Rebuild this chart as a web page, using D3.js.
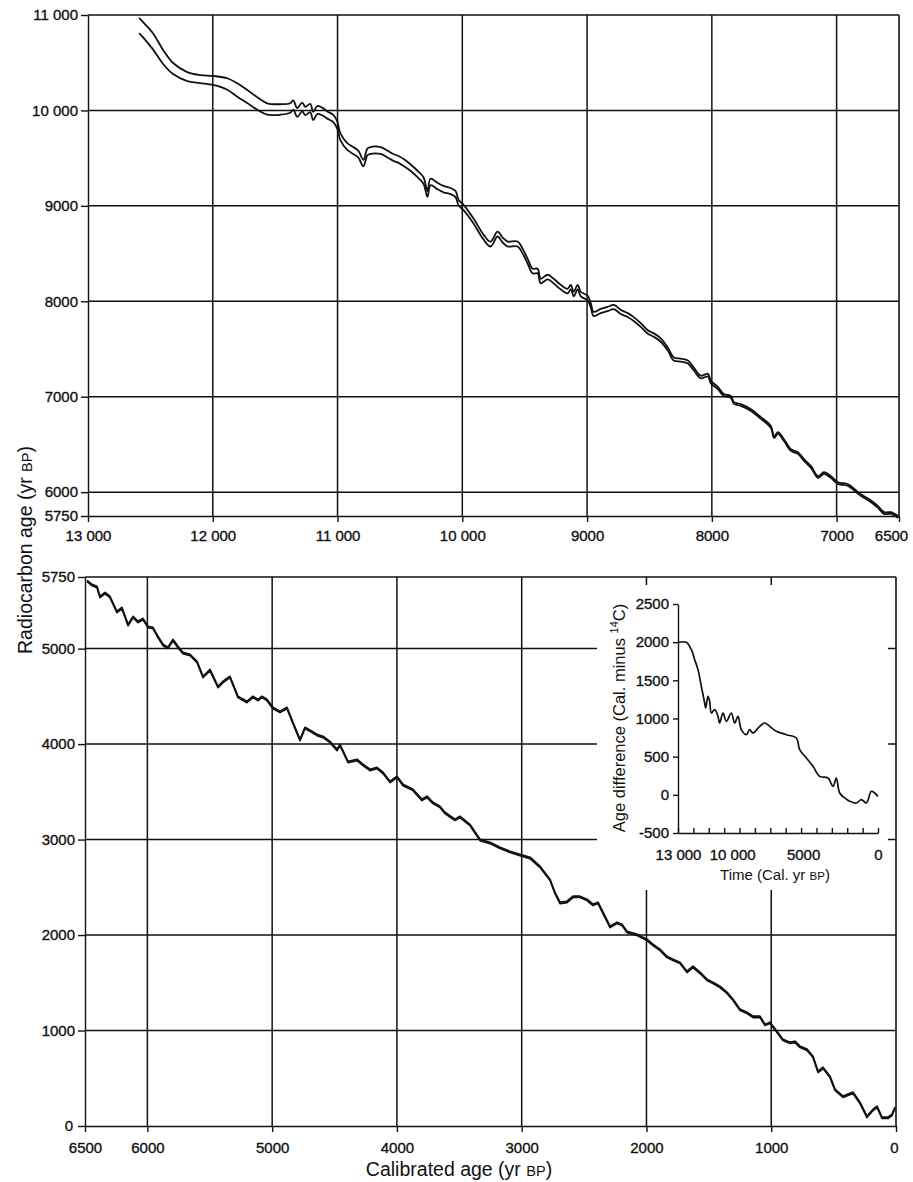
<!DOCTYPE html>
<html>
<head>
<meta charset="utf-8">
<script src="https://cdn.jsdelivr.net/npm/d3@7"></script>
<style>
  body { margin: 0; background: #fff; }
  svg { display: block; font-family: "Liberation Sans", Arial, sans-serif; }
  .axis text { font-size: 15px; fill: #111; stroke: #111; stroke-width: 0.35px; }
  .axis line, .axis path { stroke: #111; stroke-width: 1.4; }
  .title { fill: #111; }
</style>
</head>
<body>
<div id="chart-container"></div>
<script>
// calibration curve, 13000-6500 cal BP: [cal age, radiocarbon age, half-width of band]
const topCurve = [
  [12590, 10890, 80], [12560, 10848, 80], [12478, 10722, 85], [12398, 10560, 73],
  [12318, 10439, 58], [12205, 10355, 47], [12101, 10329, 42], [11997, 10314, 47],
  [11884, 10277, 60], [11804, 10214, 70], [11724, 10146, 68], [11644, 10073, 66],
  [11563, 10015, 60], [11459, 10010, 55], [11379, 10025, 50], [11355, 10057, 48],
  [11323, 9978, 46], [11283, 10036, 46], [11259, 9994, 44], [11219, 10025, 44],
  [11195, 9942, 44], [11163, 10004, 42], [11123, 9989, 40], [11082, 9952, 38],
  [11034, 9915, 38], [11002, 9847, 38], [10978, 9727, 36], [10922, 9622, 36],
  [10874, 9580, 36], [10834, 9543, 36], [10793, 9449, 34], [10761, 9564, 36],
  [10737, 9580, 36], [10656, 9580, 36], [10600, 9543, 36], [10552, 9507, 36],
  [10512, 9486, 36], [10464, 9449, 36], [10416, 9402, 34], [10359, 9334, 34],
  [10311, 9266, 34], [10279, 9124, 30], [10255, 9250, 34], [10199, 9208, 34],
  [10151, 9176, 34], [10095, 9155, 32], [10054, 9124, 32], [10030, 9035, 30],
  [9990, 8983, 28], [9910, 8841, 26], [9830, 8673, 26], [9774, 8600, 26],
  [9717, 8705, 26], [9677, 8642, 26], [9637, 8600, 26], [9557, 8600, 26],
  [9517, 8527, 25], [9477, 8422, 25], [9436, 8317, 24], [9396, 8317, 24],
  [9372, 8212, 24], [9316, 8254, 24], [9268, 8212, 24], [9212, 8149, 24],
  [9156, 8107, 24], [9131, 8149, 24], [9107, 8076, 24], [9075, 8149, 24],
  [9051, 8076, 24], [8995, 8034, 24], [8971, 7961, 24], [8947, 7867, 22],
  [8891, 7898, 22], [8835, 7919, 22], [8786, 7940, 22], [8730, 7888, 22],
  [8674, 7856, 20], [8626, 7814, 20], [8570, 7751, 20], [8513, 7678, 18],
  [8465, 7646, 18], [8409, 7594, 18], [8353, 7500, 16], [8305, 7395, 16],
  [8249, 7384, 16], [8192, 7363, 16], [8144, 7290, 15], [8088, 7206, 14],
  [8032, 7227, 14], [8008, 7154, 14], [7952, 7091, 12], [7904, 7018, 10],
  [7847, 6997, 10], [7823, 6934, 9], [7767, 6913, 9], [7687, 6860, 9],
  [7607, 6777, 9], [7526, 6682, 9], [7502, 6577, 9], [7470, 6619, 9],
  [7422, 6546, 9], [7366, 6441, 9], [7310, 6410, 9], [7261, 6336, 9],
  [7205, 6263, 9], [7149, 6158, 9], [7101, 6200, 9], [7045, 6158, 9],
  [6989, 6095, 9], [6908, 6074, 9], [6828, 5991, 9], [6780, 5949, 9],
  [6716, 5896, 9], [6668, 5844, 9], [6619, 5781, 9], [6563, 5781, 9],
  [6507, 5739, 9]
];

// calibration curve, 6500-0 cal BP: [cal age, radiocarbon age]
const bottomCurve = [
  [6484, 5708], [6444, 5666], [6404, 5645], [6380, 5541], [6340, 5582], [6300, 5541],
  [6244, 5384], [6204, 5425], [6155, 5247], [6115, 5331], [6075, 5279], [6035, 5310],
  [5995, 5227], [5955, 5216], [5915, 5122], [5875, 5038], [5835, 5007], [5795, 5090],
  [5755, 5017], [5715, 4954], [5658, 4933], [5602, 4860], [5554, 4703], [5498, 4776],
  [5434, 4598], [5394, 4651], [5338, 4703], [5274, 4494], [5202, 4441], [5154, 4494],
  [5114, 4462], [5082, 4494], [5042, 4462], [4993, 4378], [4937, 4337], [4881, 4378],
  [4833, 4221], [4777, 4043], [4737, 4169], [4681, 4127], [4641, 4096], [4593, 4075],
  [4536, 4022], [4480, 3939], [4456, 3991], [4392, 3813], [4320, 3834], [4272, 3782],
  [4216, 3729], [4160, 3750], [4112, 3698], [4055, 3604], [3999, 3656], [3951, 3572],
  [3871, 3520], [3799, 3415], [3759, 3447], [3711, 3384], [3655, 3342], [3615, 3279],
  [3535, 3206], [3495, 3237], [3415, 3153], [3334, 2996], [3254, 2965], [3174, 2913],
  [3094, 2871], [3014, 2839], [2933, 2808], [2853, 2714], [2773, 2578], [2733, 2441],
  [2693, 2337], [2637, 2347], [2589, 2400], [2533, 2400], [2477, 2368], [2428, 2316],
  [2388, 2337], [2348, 2232], [2292, 2086], [2236, 2127], [2196, 2106], [2156, 2033],
  [2076, 2002], [1996, 1950], [1948, 1897], [1892, 1845], [1836, 1771], [1787, 1740],
  [1731, 1709], [1675, 1614], [1627, 1667], [1571, 1604], [1515, 1531], [1467, 1499],
  [1411, 1457], [1355, 1395], [1306, 1321], [1250, 1217], [1194, 1185], [1146, 1143],
  [1090, 1143], [1050, 1059], [1010, 1080], [954, 986], [906, 902], [850, 871],
  [810, 881], [769, 829], [713, 798], [665, 724], [625, 567], [585, 609],
  [529, 515], [489, 379], [425, 306], [345, 348], [289, 243], [233, 96],
  [184, 169], [152, 201], [112, 86], [64, 86], [32, 117], [8, 190]
];
const bottomHalfWidth = 7;

// inset: [cal age, cal minus 14C]
const diffCurve = [
  [13000, 1998], [12458, 1998], [12133, 1902], [11917, 1771], [11700, 1640], [11483, 1421],
  [11267, 1203], [11202, 1138], [11050, 1290], [10942, 1225], [10833, 1072], [10617, 1116],
  [10400, 1028], [10292, 941], [10075, 1072], [9858, 963], [9533, 1072], [9317, 941],
  [9100, 1028], [8883, 854], [8558, 788], [8342, 854], [8125, 810], [7692, 897],
  [7367, 941], [7042, 897], [6608, 832], [5958, 788], [5308, 745], [5092, 592],
  [4658, 483], [4225, 373], [3792, 242], [3250, 220], [2925, 111], [2708, 220],
  [2492, 24], [2167, -41], [1842, -85], [1408, -107], [1083, -63], [758, -107],
  [433, 46], [217, 24], [0, -20]
];

const topXTicks = [13000, 12000, 11000, 10000, 9000, 8000, 7000, 6500];
const topYTicks = [5750, 6000, 7000, 8000, 9000, 10000, 11000];
const botXTicks = [6500, 6000, 5000, 4000, 3000, 2000, 1000, 0];
const botYTicks = [0, 1000, 2000, 3000, 4000, 5000, 5750];
const insetXLabels = [13000, 10000, 5000, 0];
const insetXMinor = d3.range(0, 13001, 1000);
const insetYTicks = [-500, 0, 500, 1000, 1500, 2000, 2500];

const width = 913, height = 1182;
const ink = "#111";

const svg = d3.select("#chart-container").append("svg")
  .attr("width", width).attr("height", height);
svg.append("rect").attr("width", width).attr("height", height).attr("fill", "#fff");

const fmt = d => Math.abs(d) >= 10000 ? d3.format(",")(d).replace(",", " ") : String(d);

const xTop = d3.scaleLinear().domain([13000, 6500]).range([88, 899]);
const yTop = d3.scaleLinear().domain([5750, 11000]).range([516, 15]);
const xBot = d3.scaleLinear().domain([6500, 0]).range([85, 896]);
const yBot = d3.scaleLinear().domain([0, 5750]).range([1126, 577]);
const xIn = d3.scaleLinear().domain([13000, 0]).range([678, 878]);
const yIn = d3.scaleLinear().domain([-500, 2500]).range([833, 604]);

function panel(x, y, xTicks, yTicks) {
  const g = svg.append("g");
  const [x0, x1] = x.range();
  const [y0, y1] = y.range();
  // grid
  g.append("g").selectAll("line").data(xTicks.slice(1, -1)).join("line")
    .attr("x1", d => x(d)).attr("x2", d => x(d))
    .attr("y1", y1).attr("y2", y0)
    .attr("stroke", ink).attr("stroke-width", 1.5);
  g.append("g").selectAll("line").data(yTicks.slice(1, -1)).join("line")
    .attr("x1", x0).attr("x2", x1)
    .attr("y1", d => y(d)).attr("y2", d => y(d))
    .attr("stroke", ink).attr("stroke-width", 1.5);
  // frame top and right
  g.append("line").attr("x1", x0).attr("x2", x1).attr("y1", y1).attr("y2", y1)
    .attr("stroke", ink).attr("stroke-width", 1.6);
  g.append("line").attr("x1", x1).attr("x2", x1).attr("y1", y1).attr("y2", y0)
    .attr("stroke", ink).attr("stroke-width", 1.6);
  return g;
}

function axes(g, x, y, xTicks, yTicks, xPad) {
  g.append("g").attr("class", "axis")
    .attr("transform", `translate(0,${y.range()[0]})`)
    .call(d3.axisBottom(x).tickValues(xTicks).tickSize(6).tickSizeOuter(0)
      .tickPadding(xPad).tickFormat(fmt));
  g.append("g").attr("class", "axis")
    .attr("transform", `translate(${x.range()[0]},0)`)
    .call(d3.axisLeft(y).tickValues(yTicks).tickSize(7).tickSizeOuter(0)
      .tickPadding(3).tickFormat(fmt));
}

// top panel
const gTop = panel(xTop, yTop, topXTicks, topYTicks);
[1, -1].forEach(s => {
  const l = d3.line().curve(d3.curveCatmullRom.alpha(0.5))
    .x(d => xTop(d[0])).y(d => yTop(d[1] + s * d[2]));
  gTop.append("path").datum(topCurve).attr("d", l)
    .attr("fill", "none").attr("stroke", ink).attr("stroke-width", 1.8)
    .attr("stroke-linejoin", "round");
});
axes(gTop, xTop, yTop, topXTicks, topYTicks, 8);
// last label sits just inside the page edge
gTop.selectAll(".axis .tick text").filter(d => d === 6500).attr("dx", -8);

// bottom panel
const gBot = panel(xBot, yBot, botXTicks, botYTicks);
[1, -1].forEach(s => {
  const l = d3.line()
    .x(d => xBot(d[0])).y(d => yBot(d[1] + s * bottomHalfWidth));
  gBot.append("path").datum(bottomCurve).attr("d", l)
    .attr("fill", "none").attr("stroke", ink).attr("stroke-width", 1.7)
    .attr("stroke-linejoin", "round");
});
axes(gBot, xBot, yBot, botXTicks, botYTicks, 10);
gBot.selectAll(".axis .tick text").filter(d => d === 0).attr("dx", -2);

// inset
const gIn = svg.append("g");
gIn.append("rect").attr("x", 597).attr("y", 585).attr("width", 291).attr("height", 305)
  .attr("fill", "#fff");
gIn.append("path").datum(diffCurve)
  .attr("d", d3.line().curve(d3.curveCatmullRom.alpha(0.5))
    .x(d => xIn(d[0])).y(d => yIn(d[1])))
  .attr("fill", "none").attr("stroke", ink).attr("stroke-width", 1.7)
  .attr("stroke-linejoin", "round");
gIn.append("g").attr("class", "axis")
  .attr("transform", `translate(${xIn.range()[0]},0)`)
  .call(d3.axisLeft(yIn).tickValues(insetYTicks).tickSize(5).tickSizeOuter(0)
    .tickPadding(4).tickFormat(fmt));
gIn.append("g").attr("class", "axis")
  .attr("transform", `translate(0,${yIn.range()[0]})`)
  .call(d3.axisBottom(xIn).tickValues(insetXMinor).tickSize(-5).tickSizeOuter(0)
    .tickFormat(""));
gIn.append("g").attr("class", "axis")
  .attr("transform", `translate(0,${yIn.range()[0]})`)
  .call(d3.axisBottom(xIn).tickValues(insetXLabels).tickSize(0)
    .tickPadding(16).tickFormat(fmt))
  .call(g => g.select(".domain").remove())
  .call(g => g.selectAll(".tick text").attr("dx", d => d === 10000 ? 8 : d === 5000 ? 2 : 0));

// titles
const yTitle = svg.append("text").attr("class", "title")
  .attr("transform", "translate(32,550) rotate(-90)")
  .attr("text-anchor", "middle").attr("font-size", 19.5)
  .text("Radiocarbon age (yr ");
yTitle.append("tspan").attr("font-size", 14.5).text("BP");
yTitle.append("tspan").text(")");

const xTitle = svg.append("text").attr("class", "title")
  .attr("x", 459).attr("y", 1176)
  .attr("text-anchor", "middle").attr("font-size", 19.5)
  .text("Calibrated age (yr ");
xTitle.append("tspan").attr("font-size", 14.5).text("BP");
xTitle.append("tspan").text(")");

const inY = svg.append("text").attr("class", "title")
  .attr("transform", "translate(625,718) rotate(-90)")
  .attr("text-anchor", "middle").attr("font-size", 16.5)
  .text("Age difference (Cal. minus ");
inY.append("tspan").attr("font-size", 11).attr("dy", -7).text("14");
inY.append("tspan").attr("dy", 7).text("C)");

const inX = svg.append("text").attr("class", "title")
  .attr("x", 775).attr("y", 880)
  .attr("text-anchor", "middle").attr("font-size", 15)
  .text("Time (Cal. yr ");
inX.append("tspan").attr("font-size", 11.5).text("BP");
inX.append("tspan").text(")");
</script>
</body>
</html>
